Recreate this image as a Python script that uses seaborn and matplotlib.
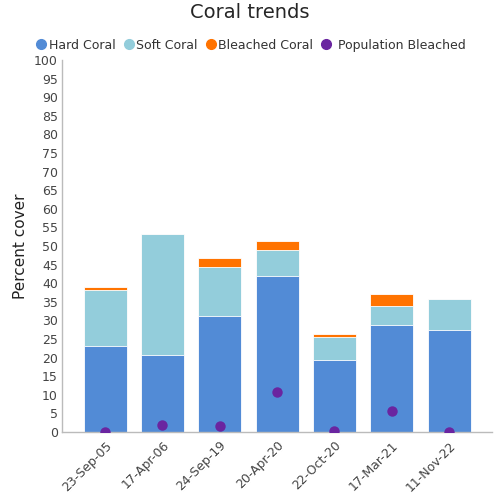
import numpy as np
import pandas as pd
import seaborn as sns
import matplotlib.pyplot as plt
from matplotlib.lines import Line2D

dates = ["23-Sep-05", "17-Apr-06", "24-Sep-19", "20-Apr-20", "22-Oct-20", "17-Mar-21", "11-Nov-22"]
hard_coral = [23.1, 20.7, 31.2, 41.9, 19.4, 28.8, 27.5]
soft_coral = [15.1, 32.5, 13.2, 7.0, 6.1, 5.1, 8.2]
bleached_coral = [0.8, 0.0, 2.4, 2.4, 0.8, 3.2, 0.0]
pop_bleached = [0.0, 1.9, 1.6, 10.8, 0.4, 5.6, 0.0]

HARD = "#528bd6"
SOFT = "#93cddb"
BLEACH = "#ff7300"
POP = "#6a25a0"


def main():
    df = pd.DataFrame({
        "date": dates,
        "hard": hard_coral,
        "soft": soft_coral,
        "bleached": bleached_coral,
        "pop": pop_bleached,
    })
    df["hard_soft"] = df["hard"] + df["soft"]
    df["total"] = df["hard_soft"] + df["bleached"]

    sns.set_style("white")
    fig = plt.figure(figsize=(5, 5), dpi=100)
    ax = fig.add_axes([0.124, 0.136, 0.86, 0.744])

    # stacked bars by overlaying cumulative heights
    sns.barplot(data=df, x="date", y="total", color=BLEACH, saturation=1, width=0.75,
                edgecolor="white", linewidth=0.6, ax=ax)
    sns.barplot(data=df, x="date", y="hard_soft", color=SOFT, saturation=1, width=0.75,
                edgecolor="white", linewidth=0.6, ax=ax)
    sns.barplot(data=df, x="date", y="hard", color=HARD, saturation=1, width=0.75,
                edgecolor="white", linewidth=0.6, ax=ax)
    sns.stripplot(data=df, x="date", y="pop", color=POP, jitter=False, size=7.5,
                  linewidth=0, ax=ax, zorder=5)

    ax.set_ylim(0, 100)
    ax.set_xlim(-0.75, 6.75)
    ax.set_yticks(np.arange(0, 101, 5))
    ax.set_xlabel("")
    ax.set_ylabel("Percent cover", fontsize=11, color="#222222")
    ax.tick_params(axis="y", labelsize=9, colors="#444444", length=0, pad=3)
    ax.tick_params(axis="x", labelsize=9, colors="#444444", length=3, pad=2)
    plt.setp(ax.get_xticklabels(), rotation=45, ha="right", rotation_mode="anchor")

    for side in ["top", "right"]:
        ax.spines[side].set_visible(False)
    for side in ["left", "bottom"]:
        ax.spines[side].set_color("#bbbbbb")
        ax.spines[side].set_linewidth(1)

    fig.suptitle("Coral trends", fontsize=14, y=0.995)

    handles = [
        Line2D([], [], marker="o", linestyle="", color=HARD, markersize=7),
        Line2D([], [], marker="o", linestyle="", color=SOFT, markersize=7),
        Line2D([], [], marker="o", linestyle="", color=BLEACH, markersize=7),
        Line2D([], [], marker="o", linestyle="", color=POP, markersize=7),
    ]
    labels = ["Hard Coral", "Soft Coral", "Bleached Coral", " Population Bleached"]
    leg = fig.legend(handles, labels, loc="upper center", bbox_to_anchor=(0.5, 0.945),
                     ncol=4, frameon=False, fontsize=9, handletextpad=0.05,
                     columnspacing=0.5, handlelength=1.1)
    for t in leg.get_texts():
        t.set_color("#333333")

    fig.savefig("out.png", dpi=100)


if __name__ == '__main__':
    main()
